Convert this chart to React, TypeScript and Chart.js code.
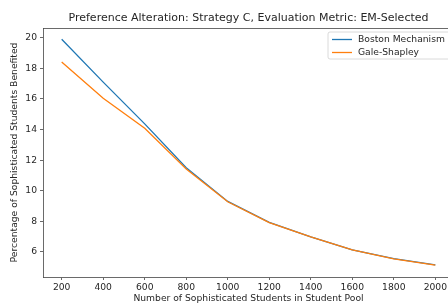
import React, { useEffect, useRef } from "react";
import { Chart, registerables } from "chart.js";

Chart.register(...registerables);

const chartTitle = "Preference Alteration: Strategy C, Evaluation Metric: EM-Selected";
const xAxisTitle = "Number of Sophisticated Students in Student Pool";
const yAxisTitle = "Percentage of Sophisticated Students Benefited";

const studentCounts = [200, 400, 600, 800, 1000, 1200, 1400, 1600, 1800, 2000];
const bostonValues = [19.9, 17.1, 14.37, 11.5, 9.3, 7.93, 6.99, 6.14, 5.56, 5.15];
const galeShapleyValues = [18.42, 16.04, 14.09, 11.42, 9.28, 7.91, 6.98, 6.13, 5.55, 5.14];

const seriesLabels = ["Boston Mechanism", "Gale-Shapley"];
const seriesColors = ["#1f77b4", "#ff7f0e"];

const xTicks = [200, 400, 600, 800, 1000, 1200, 1400, 1600, 1800, 2000];
const yTicks = [6, 8, 10, 12, 14, 16, 18, 20];

const FONT = "'DejaVu Sans', sans-serif";
const TEXT = "#262626";
const SPINE = "#444444";

export default function App() {
  const ref = useRef<HTMLCanvasElement | null>(null);

  useEffect(() => {
    const canvas = ref.current;
    if (!canvas) return;

    const framePlugin = {
      id: "frame",
      afterDraw(chart: any) {
        const { ctx, chartArea } = chart;
        const { left, right, top, bottom } = chartArea;
        ctx.save();
        ctx.strokeStyle = SPINE;
        ctx.lineWidth = 0.8;
        ctx.beginPath();
        ctx.moveTo(left, top + 0.5);
        ctx.lineTo(right, top + 0.5);
        ctx.moveTo(right - 0.5, top);
        ctx.lineTo(right - 0.5, bottom);
        ctx.stroke();

        ctx.fillStyle = TEXT;
        ctx.font = `11px ${FONT}`;
        ctx.textAlign = "center";
        ctx.textBaseline = "middle";
        ctx.fillText(chartTitle, (left + right) / 2, 18);

        const bx = 328;
        const by = 32;
        const bw = 122;
        const bh = 27;
        const r = 2;
        ctx.fillStyle = "rgba(255,255,255,0.85)";
        ctx.strokeStyle = "#d0d0d0";
        ctx.lineWidth = 0.8;
        ctx.beginPath();
        ctx.moveTo(bx + r, by);
        ctx.lineTo(bx + bw - r, by);
        ctx.quadraticCurveTo(bx + bw, by, bx + bw, by + r);
        ctx.lineTo(bx + bw, by + bh - r);
        ctx.quadraticCurveTo(bx + bw, by + bh, bx + bw - r, by + bh);
        ctx.lineTo(bx + r, by + bh);
        ctx.quadraticCurveTo(bx, by + bh, bx, by + bh - r);
        ctx.lineTo(bx, by + r);
        ctx.quadraticCurveTo(bx, by, bx + r, by);
        ctx.closePath();
        ctx.fill();
        ctx.stroke();

        ctx.font = `9.2px ${FONT}`;
        ctx.textAlign = "left";
        ctx.textBaseline = "middle";
        seriesLabels.forEach((label, i) => {
          const y = by + 7.5 + i * 13;
          ctx.strokeStyle = seriesColors[i];
          ctx.lineWidth = 1.3;
          ctx.beginPath();
          ctx.moveTo(bx + 4, y);
          ctx.lineTo(bx + 24, y);
          ctx.stroke();
          ctx.fillStyle = TEXT;
          ctx.fillText(label, bx + 30, y);
        });
        ctx.restore();
      },
    };

    const tickFont = { family: FONT, size: 9.2 };

    const chart = new Chart(canvas, {
      type: "line",
      data: {
        datasets: [
          {
            label: seriesLabels[0],
            data: studentCounts.map((x, i) => ({ x, y: bostonValues[i] })),
            borderColor: seriesColors[0],
            backgroundColor: seriesColors[0],
            borderWidth: 1.3,
            pointRadius: 0,
            tension: 0,
            order: 1,
          },
          {
            label: seriesLabels[1],
            data: studentCounts.map((x, i) => ({ x, y: galeShapleyValues[i] })),
            borderColor: seriesColors[1],
            backgroundColor: seriesColors[1],
            borderWidth: 1.3,
            pointRadius: 0,
            tension: 0,
            order: 0,
          },
        ],
      },
      options: {
        animation: false,
        responsive: false,
        devicePixelRatio: 1,
        layout: { padding: { top: 28, left: 0, right: 0, bottom: 0 } },
        plugins: {
          legend: { display: false },
          title: { display: false },
          tooltip: { enabled: false },
        },
        scales: {
          x: {
            type: "linear",
            min: 110,
            max: 2090,
            afterBuildTicks: (s: any) => {
              s.ticks = xTicks.map((v) => ({ value: v }));
            },
            afterFit: (s: any) => {
              s.height = 27;
            },
            ticks: {
              autoSkip: false,
              maxRotation: 0,
              font: tickFont,
              color: TEXT,
              padding: 2,
              callback: (v: any) => String(v),
            },
            grid: {
              drawOnChartArea: false,
              drawTicks: true,
              tickLength: 3,
              color: SPINE,
              lineWidth: 0.8,
            },
            border: { display: true, color: SPINE, width: 0.8 },
            title: {
              display: true,
              text: xAxisTitle,
              font: tickFont,
              color: TEXT,
              padding: { top: 0, bottom: 0 },
            },
          },
          y: {
            type: "linear",
            min: 4.36,
            max: 20.64,
            afterBuildTicks: (s: any) => {
              s.ticks = yTicks.map((v) => ({ value: v }));
            },
            afterFit: (s: any) => {
              s.width = 43;
            },
            ticks: {
              autoSkip: false,
              font: tickFont,
              color: TEXT,
              padding: 3,
              callback: (v: any) => String(v),
            },
            grid: {
              drawOnChartArea: false,
              drawTicks: true,
              tickLength: 3,
              color: SPINE,
              lineWidth: 0.8,
            },
            border: { display: true, color: SPINE, width: 0.8 },
            title: {
              display: true,
              text: yAxisTitle,
              font: tickFont,
              color: TEXT,
              padding: { top: 9, bottom: 0 },
            },
          },
        },
      },
      plugins: [framePlugin],
    } as any);

    return () => chart.destroy();
  }, []);

  return (
    <div
      style={{
        position: "fixed",
        left: 0,
        top: 0,
        width: 448,
        height: 304,
        overflow: "hidden",
        background: "#fff",
      }}
    >
      <canvas ref={ref} width={454} height={304} style={{ width: 454, height: 304, display: "block" }} />
    </div>
  );
}
